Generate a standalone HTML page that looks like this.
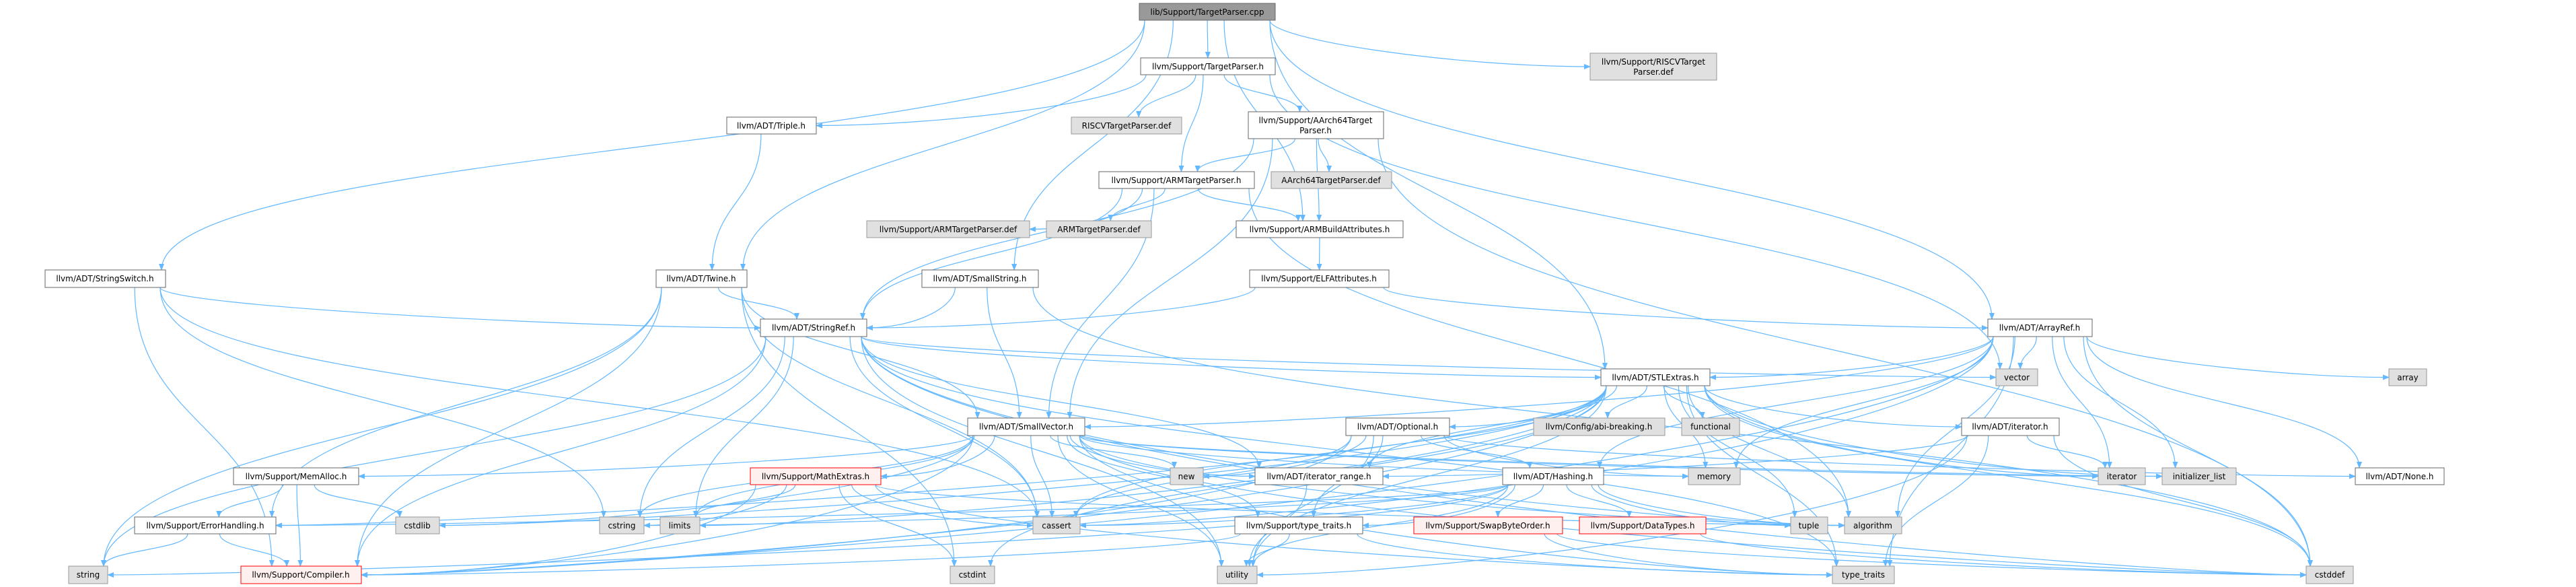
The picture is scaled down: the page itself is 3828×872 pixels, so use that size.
<!DOCTYPE html>
<html><head><meta charset="utf-8"><style>
html,body{margin:0;padding:0;background:#fff;}
svg{display:block;}
text{font-family:"DejaVu Sans","Liberation Sans",sans-serif;font-size:12px;fill:#000;}
</style></head><body>
<svg id="g" width="3828" height="872" viewBox="0 0 3828 872" xmlns="http://www.w3.org/2000/svg">
<defs><marker id="a" viewBox="0 0 10 10" refX="9" refY="5" markerWidth="10" markerHeight="10" markerUnits="userSpaceOnUse" orient="auto"><path d="M0,1 L10,5 L0,9 z" fill="#63b8ff"/></marker></defs>
<g id="edges" fill="none" stroke="#63b8ff" stroke-width="1.2"></g>
<g id="nodes">
<g id="cpp" data-b="1693,1895,5,30"><rect x="1693" y="5" width="202" height="25" fill="#999" stroke="#666"/><text x="1794" y="22" text-anchor="middle">lib/Support/TargetParser.cpp</text></g>
<g id="tph" data-b="1695,1895,86,111"><rect x="1695" y="86" width="200" height="25" fill="#fff" stroke="#666"/><text x="1795" y="103" text-anchor="middle">llvm/Support/TargetParser.h</text></g>
<g id="rdef2" data-b="2363,2551,79,119"><rect x="2363" y="79" width="188" height="40" fill="#e0e0e0" stroke="#999"/><text x="2457" y="96" text-anchor="middle">llvm/Support/RISCVTarget</text><text x="2457" y="111" text-anchor="middle">Parser.def</text></g>
<g id="triple" data-b="1080,1213,174,199"><rect x="1080" y="174" width="133" height="25" fill="#fff" stroke="#666"/><text x="1146" y="191" text-anchor="middle">llvm/ADT/Triple.h</text></g>
<g id="rtp" data-b="1592,1756,174,199"><rect x="1592" y="174" width="164" height="25" fill="#e0e0e0" stroke="#999"/><text x="1674" y="191" text-anchor="middle">RISCVTargetParser.def</text></g>
<g id="a64" data-b="1855,2056,166,206"><rect x="1855" y="166" width="201" height="40" fill="#fff" stroke="#666"/><text x="1955" y="183" text-anchor="middle">llvm/Support/AArch64Target</text><text x="1955" y="198" text-anchor="middle">Parser.h</text></g>
<g id="armtp" data-b="1633,1864,255,280"><rect x="1633" y="255" width="231" height="25" fill="#fff" stroke="#666"/><text x="1748" y="272" text-anchor="middle">llvm/Support/ARMTargetParser.h</text></g>
<g id="a64def" data-b="1889,2068,255,280"><rect x="1889" y="255" width="179" height="25" fill="#e0e0e0" stroke="#999"/><text x="1978" y="272" text-anchor="middle">AArch64TargetParser.def</text></g>
<g id="armdefs" data-b="1288,1530,328,353"><rect x="1288" y="328" width="242" height="25" fill="#e0e0e0" stroke="#999"/><text x="1409" y="345" text-anchor="middle">llvm/Support/ARMTargetParser.def</text></g>
<g id="armdef" data-b="1555,1711,328,353"><rect x="1555" y="328" width="156" height="25" fill="#e0e0e0" stroke="#999"/><text x="1633" y="345" text-anchor="middle">ARMTargetParser.def</text></g>
<g id="armba" data-b="1837,2085,328,353"><rect x="1837" y="328" width="248" height="25" fill="#fff" stroke="#666"/><text x="1961" y="345" text-anchor="middle">llvm/Support/ARMBuildAttributes.h</text></g>
<g id="ssw" data-b="67,246,401,427"><rect x="67" y="401" width="179" height="26" fill="#fff" stroke="#666"/><text x="156" y="418" text-anchor="middle">llvm/ADT/StringSwitch.h</text></g>
<g id="twine" data-b="975,1110,401,427"><rect x="975" y="401" width="135" height="26" fill="#fff" stroke="#666"/><text x="1042" y="418" text-anchor="middle">llvm/ADT/Twine.h</text></g>
<g id="sstr" data-b="1370,1543,401,427"><rect x="1370" y="401" width="173" height="26" fill="#fff" stroke="#666"/><text x="1456" y="418" text-anchor="middle">llvm/ADT/SmallString.h</text></g>
<g id="elf" data-b="1857,2064,401,427"><rect x="1857" y="401" width="207" height="26" fill="#fff" stroke="#666"/><text x="1960" y="418" text-anchor="middle">llvm/Support/ELFAttributes.h</text></g>
<g id="sref" data-b="1130,1288,474,500"><rect x="1130" y="474" width="158" height="26" fill="#fff" stroke="#666"/><text x="1209" y="491" text-anchor="middle">llvm/ADT/StringRef.h</text></g>
<g id="aref" data-b="2954,3109,474,500"><rect x="2954" y="474" width="155" height="26" fill="#fff" stroke="#666"/><text x="3031" y="491" text-anchor="middle">llvm/ADT/ArrayRef.h</text></g>
<g id="vector" data-b="2966,3028,548,573"><rect x="2966" y="548" width="62" height="25" fill="#e0e0e0" stroke="#999"/><text x="2997" y="565" text-anchor="middle">vector</text></g>
<g id="stl" data-b="2379,2541,548,573"><rect x="2379" y="548" width="162" height="25" fill="#fff" stroke="#666"/><text x="2460" y="565" text-anchor="middle">llvm/ADT/STLExtras.h</text></g>
<g id="array" data-b="3550,3606,548,573"><rect x="3550" y="548" width="56" height="25" fill="#e0e0e0" stroke="#999"/><text x="3578" y="565" text-anchor="middle">array</text></g>
<g id="svec" data-b="1438,1612,621,647"><rect x="1438" y="621" width="174" height="26" fill="#fff" stroke="#666"/><text x="1525" y="638" text-anchor="middle">llvm/ADT/SmallVector.h</text></g>
<g id="opt" data-b="2000,2154,621,647"><rect x="2000" y="621" width="154" height="26" fill="#fff" stroke="#666"/><text x="2077" y="638" text-anchor="middle">llvm/ADT/Optional.h</text></g>
<g id="abi" data-b="2279,2474,621,647"><rect x="2279" y="621" width="195" height="26" fill="#e0e0e0" stroke="#999"/><text x="2376" y="638" text-anchor="middle">llvm/Config/abi-breaking.h</text></g>
<g id="func" data-b="2499,2585,621,647"><rect x="2499" y="621" width="86" height="26" fill="#e0e0e0" stroke="#999"/><text x="2542" y="638" text-anchor="middle">functional</text></g>
<g id="iterh" data-b="2915,3060,621,647"><rect x="2915" y="621" width="145" height="26" fill="#fff" stroke="#666"/><text x="2987" y="638" text-anchor="middle">llvm/ADT/iterator.h</text></g>
<g id="memalloc" data-b="347,533,695,720"><rect x="347" y="695" width="186" height="25" fill="#fff" stroke="#666"/><text x="440" y="712" text-anchor="middle">llvm/Support/MemAlloc.h</text></g>
<g id="math" data-b="1115,1309,695,720"><rect x="1115" y="695" width="194" height="25" fill="#fff0f0" stroke="#f00"/><text x="1212" y="712" text-anchor="middle">llvm/Support/MathExtras.h</text></g>
<g id="new" data-b="1739,1788,695,720"><rect x="1739" y="695" width="49" height="25" fill="#e0e0e0" stroke="#999"/><text x="1763" y="712" text-anchor="middle">new</text></g>
<g id="irange" data-b="1865,2055,695,720"><rect x="1865" y="695" width="190" height="25" fill="#fff" stroke="#666"/><text x="1960" y="712" text-anchor="middle">llvm/ADT/iterator_range.h</text></g>
<g id="hash" data-b="2233,2383,695,720"><rect x="2233" y="695" width="150" height="25" fill="#fff" stroke="#666"/><text x="2308" y="712" text-anchor="middle">llvm/ADT/Hashing.h</text></g>
<g id="memory" data-b="2509,2586,695,720"><rect x="2509" y="695" width="77" height="25" fill="#e0e0e0" stroke="#999"/><text x="2547" y="712" text-anchor="middle">memory</text></g>
<g id="iter" data-b="3118,3188,695,720"><rect x="3118" y="695" width="70" height="25" fill="#e0e0e0" stroke="#999"/><text x="3153" y="712" text-anchor="middle">iterator</text></g>
<g id="initl" data-b="3213,3323,695,720"><rect x="3213" y="695" width="110" height="25" fill="#e0e0e0" stroke="#999"/><text x="3268" y="712" text-anchor="middle">initializer_list</text></g>
<g id="none" data-b="3500,3632,695,720"><rect x="3500" y="695" width="132" height="25" fill="#fff" stroke="#666"/><text x="3566" y="712" text-anchor="middle">llvm/ADT/None.h</text></g>
<g id="errh" data-b="200,410,768,793"><rect x="200" y="768" width="210" height="25" fill="#fff" stroke="#666"/><text x="305" y="785" text-anchor="middle">llvm/Support/ErrorHandling.h</text></g>
<g id="cstdlib" data-b="588,653,768,793"><rect x="588" y="768" width="65" height="25" fill="#e0e0e0" stroke="#999"/><text x="620" y="785" text-anchor="middle">cstdlib</text></g>
<g id="cstring" data-b="891,957,768,793"><rect x="891" y="768" width="66" height="25" fill="#e0e0e0" stroke="#999"/><text x="924" y="785" text-anchor="middle">cstring</text></g>
<g id="limits" data-b="981,1040,768,793"><rect x="981" y="768" width="59" height="25" fill="#e0e0e0" stroke="#999"/><text x="1010" y="785" text-anchor="middle">limits</text></g>
<g id="cassert" data-b="1535,1605,768,793"><rect x="1535" y="768" width="70" height="25" fill="#e0e0e0" stroke="#999"/><text x="1570" y="785" text-anchor="middle">cassert</text></g>
<g id="tth" data-b="1835,2025,768,793"><rect x="1835" y="768" width="190" height="25" fill="#fff" stroke="#666"/><text x="1930" y="785" text-anchor="middle">llvm/Support/type_traits.h</text></g>
<g id="swap" data-b="2101,2322,768,793"><rect x="2101" y="768" width="221" height="25" fill="#fff0f0" stroke="#f00"/><text x="2211" y="785" text-anchor="middle">llvm/Support/SwapByteOrder.h</text></g>
<g id="datat" data-b="2347,2535,768,793"><rect x="2347" y="768" width="188" height="25" fill="#fff0f0" stroke="#f00"/><text x="2441" y="785" text-anchor="middle">llvm/Support/DataTypes.h</text></g>
<g id="tuple" data-b="2661,2716,768,793"><rect x="2661" y="768" width="55" height="25" fill="#e0e0e0" stroke="#999"/><text x="2688" y="785" text-anchor="middle">tuple</text></g>
<g id="algo" data-b="2741,2826,768,793"><rect x="2741" y="768" width="85" height="25" fill="#e0e0e0" stroke="#999"/><text x="2783" y="785" text-anchor="middle">algorithm</text></g>
<g id="string" data-b="102,160,841,867"><rect x="102" y="841" width="58" height="26" fill="#e0e0e0" stroke="#999"/><text x="131" y="858" text-anchor="middle">string</text></g>
<g id="comp" data-b="358,537,841,867"><rect x="358" y="841" width="179" height="26" fill="#fff0f0" stroke="#f00"/><text x="447" y="858" text-anchor="middle">llvm/Support/Compiler.h</text></g>
<g id="cstdint" data-b="1412,1478,841,867"><rect x="1412" y="841" width="66" height="26" fill="#e0e0e0" stroke="#999"/><text x="1445" y="858" text-anchor="middle">cstdint</text></g>
<g id="utility" data-b="1809,1868,841,867"><rect x="1809" y="841" width="59" height="26" fill="#e0e0e0" stroke="#999"/><text x="1838" y="858" text-anchor="middle">utility</text></g>
<g id="tt" data-b="2723,2815,841,867"><rect x="2723" y="841" width="92" height="26" fill="#e0e0e0" stroke="#999"/><text x="2769" y="858" text-anchor="middle">type_traits</text></g>
<g id="cstddef" data-b="3427,3497,841,867"><rect x="3427" y="841" width="70" height="26" fill="#e0e0e0" stroke="#999"/><text x="3462" y="858" text-anchor="middle">cstddef</text></g>
</g>
</svg>
<script>
(function(){
var E={
cpp:"tph rdef2 ssw twine sstr armba aref stl",
tph:"triple rtp armtp a64 vector",
a64:"armtp a64def sref svec armba cstddef",
armtp:"armdefs armdef armba sref svec algo",
armba:"elf",elf:"sref aref",triple:"twine",
ssw:"sref comp cstring cassert",
twine:"sref svec comp errh cassert cstdint string",
sstr:"sref svec cstddef",
sref:"stl irange comp algo cassert cstddef cstring limits string tt utility vector",
aref:"hash none svec stl comp algo array cassert cstddef initl iter memory tt vector",
stl:"opt abi func iterh irange errh algo cassert cstddef cstdint cstdlib initl iter limits memory tuple tt utility comp",
svec:"memalloc math comp tth irange algo cassert cstddef cstdlib cstring initl iter limits memory new tt utility",
opt:"none hash comp tth cassert memory new utility",
iterh:"irange cstddef iter tt utility",
memalloc:"comp errh cstdlib",
math:"comp cassert limits cstdint cstring tt algo",
hash:"errh swap datat tth algo cassert cstring string tuple utility",
errh:"comp string",tth:"comp tt utility",swap:"cstddef tt",datat:"cstddef",irange:"utility"};
function B(id){var b=document.getElementById(id).getAttribute('data-b').split(',').map(Number);return{x1:b[0],x2:b[1],y1:b[2],y2:b[3],cx:(b[0]+b[1])/2,cy:(b[2]+b[3])/2};}
var g=document.getElementById('edges'),ns="http://www.w3.org/2000/svg";
function cl(v,a,b){return Math.max(a,Math.min(b,v));}
for(var s in E){E[s].split(' ').forEach(function(t){
 var S=B(s),T=B(t),d;
 var dx=T.cx-S.cx,dy=T.y1-S.y2;
 var sx=cl(S.cx+dx*0.15,S.x1+8,S.x2-8),sy=S.y2;
 if(Math.abs(dx)>5*dy){
   var dir=dx>0?1:-1;var ex=dir>0?T.x1:T.x2;var ey=T.cy;
   var k=Math.min(Math.abs(dx)*0.3,250);
   d="M"+sx+","+sy+" C"+sx+","+(sy+dy*0.6)+" "+(ex-dir*k)+","+ey+" "+ex+","+ey;
 } else {
   var tx=cl(T.cx-dx*0.15,T.x1+6,T.x2-6);
   var m=(sy+T.y1)/2;
   d="M"+sx+","+sy+" C"+sx+","+m+" "+tx+","+m+" "+tx+","+T.y1;
 }
 var p=document.createElementNS(ns,'path');p.setAttribute('d',d);p.setAttribute('marker-end','url(#a)');g.appendChild(p);
});}
})();
</script>
</body></html>
